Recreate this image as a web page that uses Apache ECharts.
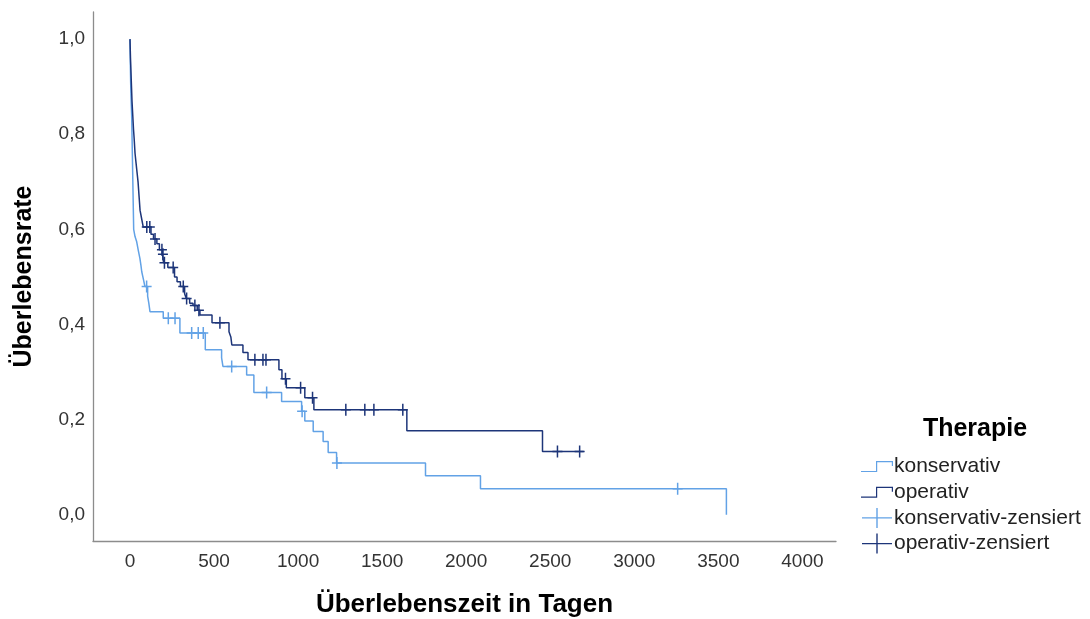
<!DOCTYPE html>
<html>
<head>
<meta charset="utf-8">
<script src="https://cdn.jsdelivr.net/npm/echarts@6/dist/echarts.min.js"></script>
<style>html,body{margin:0;padding:0;background:#fff;}#c{width:1090px;height:619px;}</style>
</head>
<body>
<div id="c"></div>
<script>
// Kaplan-Meier step points: [day, survival]
const konservativSteps = [[0,1.0],[2,0.95],[4,0.91],[6,0.88],[8,0.86],[10,0.84],[12,0.80],[14,0.76],[16,0.72],[18,0.68],[20,0.64],[22,0.60],[30,0.585],[40,0.574],[50,0.555],[59,0.539],[65,0.525],[70,0.511],[80,0.495],[89,0.48],[105,0.46],[112,0.445],[119,0.427],[198,0.413],[297,0.382],[448,0.347],[545,0.33],[553,0.312],[694,0.294],[737,0.257],[902,0.238],[1021,0.218],[1040,0.197],[1090,0.175],[1149,0.154],[1179,0.131],[1229,0.109],[1758,0.082],[2085,0.055],[3548,0.0]];
const operativSteps = [[0,1.0],[3,0.96],[6,0.93],[9,0.90],[12,0.87],[15,0.85],[18,0.83],[21,0.81],[25,0.79],[30,0.76],[36,0.74],[42,0.72],[48,0.70],[54,0.67],[60,0.64],[68,0.625],[79,0.605],[125,0.59],[140,0.58],[160,0.57],[175,0.557],[193,0.548],[200,0.53],[225,0.52],[265,0.50],[280,0.49],[300,0.48],[325,0.465],[335,0.455],[355,0.445],[375,0.44],[400,0.43],[416,0.42],[488,0.404],[589,0.385],[600,0.374],[606,0.357],[672,0.341],[702,0.326],[886,0.305],[904,0.286],[930,0.267],[1040,0.246],[1094,0.221],[1647,0.177],[2454,0.133],[2699,0.133]];
const konservativCensored = [[99,0.48],[228,0.413],[268,0.413],[367,0.382],[406,0.382],[436,0.382],[605,0.312],[813,0.257],[1024,0.218],[1231,0.109],[3258,0.055]];
const operativCensored = [[100,0.605],[118,0.605],[149,0.58],[190,0.557],[196,0.548],[205,0.53],[257,0.52],[317,0.48],[337,0.455],[386,0.44],[410,0.43],[535,0.404],[743,0.326],[791,0.326],[809,0.326],[925,0.286],[1015,0.267],[1086,0.246],[1284,0.221],[1397,0.221],[1451,0.221],[1623,0.221],[2543,0.133],[2675,0.133]];
const xTicks = [0,500,1000,1500,2000,2500,3000,3500,4000];
const yTicks = [0,0.2,0.4,0.6,0.8,1.0];
const seriesNames = ['konservativ','operativ','konservativ-zensiert','operativ-zensiert'];

const lightColor = '#62a2e6';
const darkColor = '#1d3579';
const font = '"Liberation Sans", Arial, sans-serif';

const plusMark = 'path://M4.25,0 H5.75 V5.25 H10 V6.75 H5.75 V12 H4.25 V6.75 H0 V5.25 H4.25 Z';
const stepIcon = 'path://M0,0 L0,0 M32,20 L32,20 M0,14.4 L15,14.4 L15,4.5 L32,4.5 L32,9.5 L30.8,9.5 L30.8,5.7 L16.2,5.7 L16.2,15.6 L0,15.6 Z';
const crossIcon = 'path://M0,9.3 H14.3 V0 H15.7 V9.3 H30 V10.7 H15.7 V20 H14.3 V10.7 H0 Z';

const chart = echarts.init(document.getElementById('c'), null, {renderer:'canvas'});
chart.setOption({
  animation: false,
  backgroundColor: '#fff',
  textStyle: {fontFamily: font},
  title: [{
    text: 'Therapie', left: 970, top: 412, textAlign: 'center',
    textStyle: {fontFamily: font, fontSize: 25, fontWeight: 'bold', color: '#000'}
  }],
  grid: {left: 93, top: 12, right: 254, bottom: 78, containLabel: false, outerBoundsMode: 'none'},
  legend: {
    orient: 'vertical', left: 856, top: 451, itemWidth: 32, itemHeight: 20, itemGap: 4.7,
    selectedMode: false,
    itemStyle: {borderWidth: 0},
    textStyle: {fontFamily: font, fontSize: 21, color: '#222', padding: [0,0,0,-4]},
    data: [
      {name: seriesNames[0], icon: stepIcon},
      {name: seriesNames[1], icon: stepIcon},
      {name: seriesNames[2], icon: crossIcon},
      {name: seriesNames[3], icon: crossIcon}
    ]
  },
  xAxis: {
    type: 'value', min: -220, max: 4200,
    name: 'Überlebenszeit in Tagen', nameLocation: 'middle', nameGap: 51,
    nameTextStyle: {fontFamily: font, fontSize: 26, fontWeight: 'bold', color: '#000'},
    axisLine: {show: true, onZero: false, lineStyle: {color: '#8c8c8c', width: 1.3}},
    axisTick: {show: false},
    splitLine: {show: false},
    axisLabel: {customValues: xTicks, fontFamily: font, fontSize: 19, color: '#333', margin: 11,
      formatter: v => String(Math.round(v))}
  },
  yAxis: {
    type: 'value', min: -0.055, max: 1.057,
    name: 'Überlebensrate', nameLocation: 'middle', nameGap: 56, nameRotate: 90,
    nameTextStyle: {fontFamily: font, fontSize: 25, fontWeight: 'bold', color: '#000'},
    axisLine: {show: true, onZero: false, lineStyle: {color: '#8c8c8c', width: 1.3}},
    axisTick: {show: false},
    splitLine: {show: false},
    axisLabel: {customValues: yTicks, fontFamily: font, fontSize: 19, color: '#333', margin: 8,
      padding: [4,0,0,0],
      formatter: v => v.toFixed(1).replace('.', ',')}
  },
  series: [
    {name: seriesNames[0], type: 'line', step: 'end', data: konservativSteps, showSymbol: false,
     lineStyle: {color: lightColor, width: 1.5}, itemStyle: {color: lightColor, borderWidth: 0}, z: 2},
    {name: seriesNames[1], type: 'line', step: 'end', data: operativSteps, showSymbol: false,
     lineStyle: {color: darkColor, width: 1.5}, itemStyle: {color: darkColor, borderWidth: 0}, z: 3},
    {name: seriesNames[2], type: 'scatter', data: konservativCensored, symbol: plusMark, symbolSize: [10,12],
     itemStyle: {color: lightColor, opacity: 1}, z: 4},
    {name: seriesNames[3], type: 'scatter', data: operativCensored, symbol: plusMark, symbolSize: [10,12],
     itemStyle: {color: darkColor, opacity: 1}, z: 5}
  ]
});
</script>
</body>
</html>
